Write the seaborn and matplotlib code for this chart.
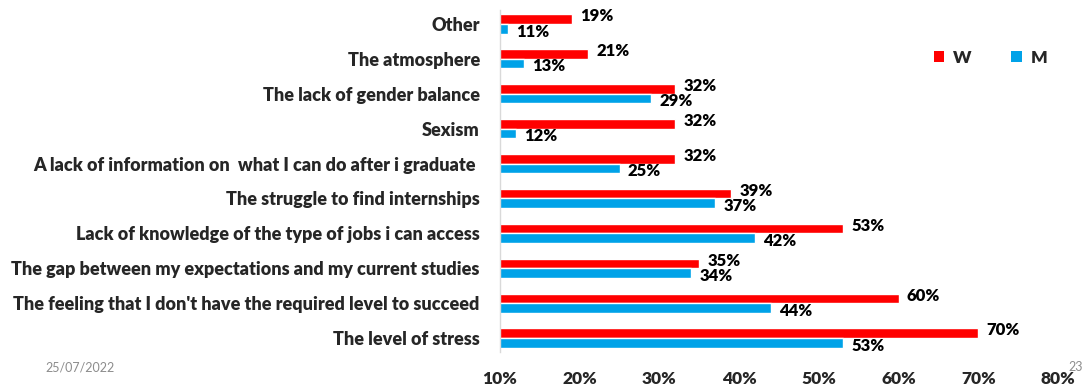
import matplotlib
matplotlib.use("Agg")
import matplotlib.pyplot as plt
import seaborn as sns
import pandas as pd
from matplotlib.patches import Patch

categories = [
    "Other",
    "The atmosphere",
    "The lack of gender balance",
    "Sexism",
    "A lack of information on  what I can do after i graduate ",
    "The struggle to find internships",
    "Lack of knowledge of the type of jobs i can access",
    "The gap between my expectations and my current studies",
    "The feeling that I don't have the required level to succeed",
    "The level of stress",
]
women = [19, 21, 32, 32, 32, 39, 53, 35, 60, 70]
men = [11, 13, 29, 12, 25, 37, 42, 34, 44, 53]
x_ticks = [10, 20, 30, 40, 50, 60, 70, 80]
series_names = ["W", "M"]
colors = {"W": "#FF0000", "M": "#00A2E8"}

df = pd.DataFrame({
    "Category": categories * 2,
    "Value": women + men,
    "Gender": ["W"] * len(categories) + ["M"] * len(categories),
})

sns.set_theme(style="white")
plt.rcParams["font.family"] = ["Lato", "DejaVu Sans"]

fig = plt.figure(figsize=(10.84, 3.87), dpi=100)
ax = fig.add_axes([500 / 1084, 1 - 352 / 387, 558 / 1084, 342 / 387])

sns.barplot(data=df, y="Category", x="Value", hue="Gender", hue_order=series_names,
            order=categories, palette=colors, orient="h", width=0.55, gap=0,
            ax=ax, legend=False, saturation=1)

for cont, dy in zip(ax.containers, [-2, 2]):
    texts = ax.bar_label(cont, labels=[f"{int(v)}%" for v in cont.datavalues], padding=6,
                         fontsize=12, fontweight="heavy", color="black")
    for t in texts:
        t.xyann = (t.xyann[0], -dy)

ax.set_xlim(10, 80)
ax.set_ylim(9.4, -0.4)
ax.set_xticks(x_ticks)
ax.set_xticklabels([f"{t}%" for t in x_ticks], fontsize=12.5, fontweight="heavy")
ax.tick_params(axis="x", length=0, pad=14)
ax.tick_params(axis="y", length=0, pad=14.5, labelsize=13)
for lab in ax.get_yticklabels():
    lab.set_fontweight("heavy")
ax.set_xlabel("")
ax.set_ylabel("")
for s in ["top", "right", "bottom"]:
    ax.spines[s].set_visible(False)
ax.spines["left"].set_color("#D9D9D9")
ax.spines["left"].set_linewidth(1)

handles = [Patch(facecolor=colors[n], edgecolor="none", label=n) for n in series_names]
fig.legend(handles=handles, loc="center left", bbox_to_anchor=(918 / 1084, 1 - 58 / 387),
           ncol=2, frameon=False, handlelength=0.6, handleheight=0.6, handletextpad=0.5,
           columnspacing=2.3, prop={"weight": "heavy", "size": 12.5})

fig.text(45 / 1084, 1 - 367 / 387, "25/07/2022", fontsize=9, color="#8C8C8C", va="center", ha="left")
fig.text(1083 / 1084, 1 - 367 / 387, "23", fontsize=9, color="#8C8C8C", va="center", ha="right")

fig.savefig("out.png", dpi=100)
